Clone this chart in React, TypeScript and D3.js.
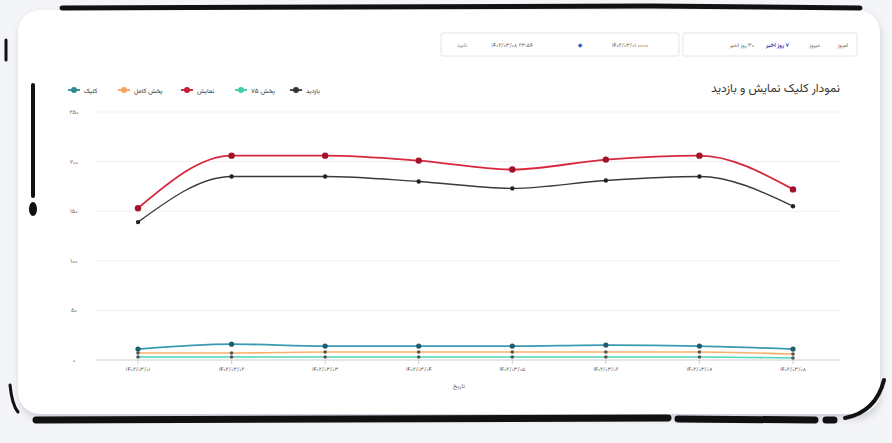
import React from "react";
import * as d3 from "d3";

const dates = ["۱۴۰۲/۰۳/۰۱", "۱۴۰۲/۰۳/۰۲", "۱۴۰۲/۰۳/۰۳", "۱۴۰۲/۰۳/۰۴", "۱۴۰۲/۰۳/۰۵", "۱۴۰۲/۰۳/۰۶", "۱۴۰۲/۰۳/۰۷", "۱۴۰۲/۰۳/۰۸"];
const impressions = [153, 206, 206, 201, 192, 202, 206, 172];
const visits = [139, 185, 185, 180, 173, 181, 185, 155];
const clicks = [11, 16, 14, 14, 14, 15, 14, 11];
const fullPlay = [7, 7, 8, 8, 8, 8, 8, 6];
const play75 = [3, 3, 3, 3, 3, 3, 3, 2];
const yTicks = [0, 50, 100, 150, 200, 250];
const yTickLabels = ["۰", "۵۰", "۱۰۰", "۱۵۰", "۲۰۰", "۲۵۰"];
const legendNames = ["کلیک", "پخش کامل", "نمایش", "پخش ۷۵", "بازدید"];
const title = "نمودار کلیک نمایش و بازدید";
const axisTitle = "تاریخ";

const FONT = "Vazirmatn, 'Noto Sans', 'DejaVu Sans', sans-serif";

export default function App() {
  const x = d3.scalePoint<string>().domain(dates).range([138, 793]);
  const y = d3.scaleLinear().domain([0, 250]).range([360, 112]);
  const line = d3
    .line<number>()
    .x((_, i) => x(dates[i]) as number)
    .y((d) => y(d))
    .curve(d3.curveMonotoneX);

  const series = [
    { name: legendNames[1], data: fullPlay, color: "#f6b26b", dot: "#555", r: 1.8, w: 1.6 },
    { name: legendNames[3], data: play75, color: "#4fd6b8", dot: "#555", r: 1.8, w: 1.6 },
    { name: legendNames[0], data: clicks, color: "#3a9ab0", dot: "#215c6e", r: 2.6, w: 1.8 },
    { name: legendNames[4], data: visits, color: "#3a3a3a", dot: "#222", r: 2.2, w: 1.4 },
    { name: legendNames[2], data: impressions, color: "#d8283e", dot: "#a3122a", r: 3.2, w: 1.8 },
  ];

  const legend = [
    { name: legendNames[0], color: "#2f8a8f", x: 74 },
    { name: legendNames[1], color: "#f6a35b", x: 124 },
    { name: legendNames[2], color: "#c81e32", x: 187 },
    { name: legendNames[3], color: "#3fcfa8", x: 241 },
    { name: legendNames[4], color: "#333", x: 296 },
  ];

  return (
    <svg width={892} height={443} style={{ position: "absolute", left: 0, top: 0, fontFamily: FONT }}>
      <defs>
        <filter id="sh" x="-5%" y="-5%" width="110%" height="110%">
          <feGaussianBlur stdDeviation="4" />
        </filter>
      </defs>
      <rect width={892} height={443} fill="#f4f5f8" />
      <rect x={20} y={14} width={860} height={404} rx={22} fill="#c8cbd6" filter="url(#sh)" />
      <rect x={18} y={10} width={862} height={404} rx={22} fill="#ffffff" />

      {/* black frame strokes */}
      <path d="M62 8 L650 6 L860 8" stroke="#111" strokeWidth={5} fill="none" strokeLinecap="round" />
      <path d="M36 420 L668 418 M678 419 L815 420 M826 420 L834 420" stroke="#111" strokeWidth={7} fill="none" strokeLinecap="round" />
      <path d="M845 418 Q876 412 884 380" stroke="#111" strokeWidth={4} fill="none" strokeLinecap="round" />
      <path d="M33 85 L33 196" stroke="#111" strokeWidth={4} fill="none" strokeLinecap="round" />
      <ellipse cx={33} cy={209} rx={4} ry={7} fill="#111" />
      <path d="M10 385 Q12 405 18 412" stroke="#111" strokeWidth={3} fill="none" strokeLinecap="round" />
      <path d="M6 40 L6 60" stroke="#111" strokeWidth={3} fill="none" strokeLinecap="round" />

      {/* top controls */}
      <rect x={441} y={33} width={238} height={23} rx={2} fill="#fff" stroke="#e6e6ea" />
      <rect x={683} y={33} width={174} height={23} rx={2} fill="#fff" stroke="#e6e6ea" />
      <text x={462} y={47} fontSize={5.5} fill="#888" textAnchor="middle">تایید</text>
      <text x={512} y={47} fontSize={5.5} fill="#555" textAnchor="middle">۱۴۰۲/۰۳/۰۸ ۲۳:۵۹</text>
      <text x={580} y={47} fontSize={6} fill="#3557c5" textAnchor="middle">◆</text>
      <text x={630} y={47} fontSize={5.5} fill="#555" textAnchor="middle">۱۴۰۲/۰۳/۰۱ ۰۰:۰۰</text>
      <text x={848} y={47} fontSize={5.5} fill="#555" direction="rtl" textAnchor="start">امروز</text>
      <text x={820} y={47} fontSize={5.5} fill="#555" direction="rtl" textAnchor="start">دیروز</text>
      <text x={789} y={47} fontSize={5.8} fill="#2440c0" direction="rtl" textAnchor="start" fontWeight="bold">۷ روز اخیر</text>
      <text x={754} y={47} fontSize={5.5} fill="#555" direction="rtl" textAnchor="start">۳۰ روز اخیر</text>

      {/* title */}
      <text x={840} y={92} fontSize={12} fill="#333" direction="rtl" textAnchor="start">{title}</text>

      {/* legend */}
      {legend.map((l) => (
        <g key={l.name}>
          <line x1={l.x - 6} x2={l.x + 6} y1={90} y2={90} stroke={l.color} strokeWidth={1.8} />
          <circle cx={l.x} cy={90} r={3} fill={l.color} />
          <text x={l.x + 10} y={92.5} fontSize={6.5} fill="#333" direction="rtl" textAnchor="end">
            {l.name}
          </text>
        </g>
      ))}

      {/* grid */}
      {yTicks.map((t, i) => (
        <g key={t}>
          <line x1={96} x2={840} y1={y(t)} y2={y(t)} stroke={t === 0 ? "#cfcfcf" : "#efefef"} strokeWidth={1} />
          <text x={74} y={y(t) + 2} fontSize={6} fill="#666" textAnchor="middle">
            {yTickLabels[i]}
          </text>
        </g>
      ))}
      {dates.map((d) => (
        <g key={d}>
          <line x1={x(d)} x2={x(d)} y1={360} y2={364} stroke="#ccc" />
          <text x={x(d)} y={371} fontSize={5.5} fill="#555" textAnchor="middle">
            {d}
          </text>
        </g>
      ))}
      <text x={459} y={388} fontSize={6} fill="#666" textAnchor="middle">{axisTitle}</text>

      {/* series */}
      {series.map((s) => (
        <g key={s.name}>
          <path d={line(s.data) || ""} fill="none" stroke={s.color} strokeWidth={s.w} />
          {s.data.map((v, i) => (
            <circle key={i} cx={x(dates[i])} cy={y(v)} r={s.r} fill={s.dot} />
          ))}
        </g>
      ))}
    </svg>
  );
}
